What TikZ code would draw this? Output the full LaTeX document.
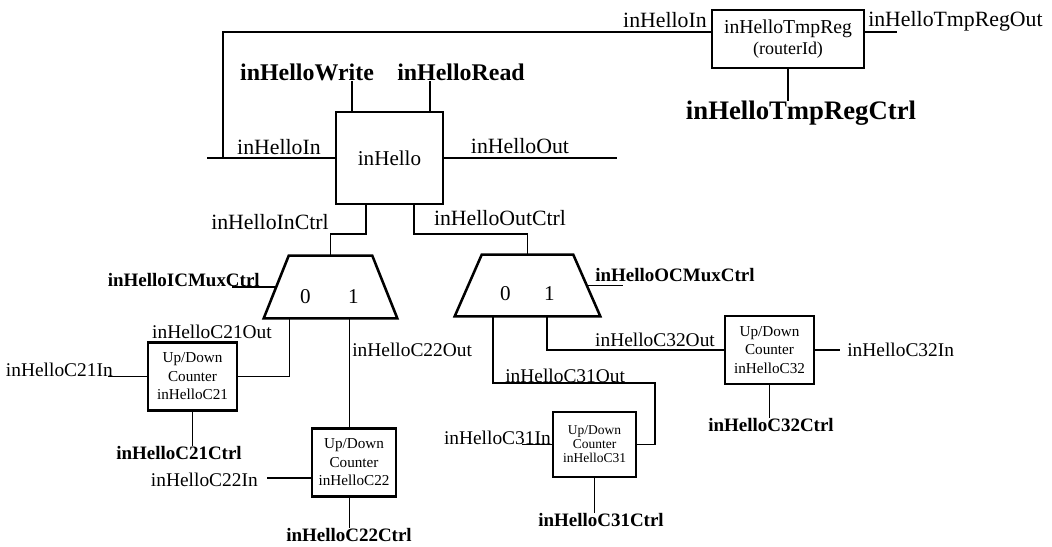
\documentclass[tikz,border=0pt]{standalone}
\usepackage{fontspec}
\setmainfont{Liberation Serif}
\usetikzlibrary{positioning, calc}

\begin{document}
\begin{tikzpicture}[
    x=0.025cm, y=-0.025cm,
    wire/.style={line width=1.3pt},
    blockbox/.style={draw, line width=1.8pt, align=center, inner sep=1pt},
    udcounter/.style={blockbox, minimum width=2.225cm, minimum height=1.7cm,
        font=\fontsize{10.8}{13.2}\selectfont},
    mux/.style={inner sep=0pt, minimum height=1.55cm},
    muxline/.style={line width=1.8pt, line join=miter},
    digit/.style={inner sep=0pt, font=\fontsize{15}{18}\selectfont},
    sig/.style={inner sep=0pt, font=\fontsize{15.5}{18}\selectfont},
    sigs/.style={inner sep=0pt, font=\fontsize{13.8}{16}\selectfont},
    ctl/.style={inner sep=0pt, font=\fontsize{13.5}{16}\selectfont\bfseries},
    bigctl/.style={inner sep=0pt, font=\fontsize{17}{20}\selectfont\bfseries}
]
    \useasboundingbox (0,0) rectangle (1052,546);

    % registers
    \node[blockbox, minimum width=2.675cm, minimum height=2.3cm,
        font=\fontsize{15}{18}\selectfont] (hello) at (389.5,158) {inHello};
    \node[blockbox, minimum width=3.8cm, minimum height=1.45cm,
        font=\fontsize{14}{14.5}\selectfont] (tmpreg) at (788,39)
        {inHelloTmpReg\\{\fontsize{12.8}{14}\selectfont(routerId)}};

    % muxes: node for the box, outline drawn on its corners
    \node[mux, minimum width=3.325cm] (muxI) at (330.5,287) {};
    \draw[muxline] (muxI.south west) -- ($(muxI.north west)+(25,0)$)
        -- ($(muxI.north east)+(-25,0)$) -- (muxI.south east) -- cycle;
    \node[digit] (muxIa) at ($(muxI)+(-25,10)$) {0};
    \node[digit] (muxIb) at ($(muxI)+(23,10)$) {1};

    \node[mux, minimum width=3.625cm, minimum height=1.525cm] (muxO) at (527.5,285.5) {};
    \draw[muxline] (muxO.south west) -- ($(muxO.north west)+(27,0)$)
        -- ($(muxO.north east)+(-27,0)$) -- (muxO.south east) -- cycle;
    \node[digit] (muxOa) at ($(muxO)+(-22,8)$) {0};
    \node[digit] (muxOb) at ($(muxO)+(22,8)$) {1};

    % up/down counters
    \node[udcounter] (c21) at (192.5,376.5) {Up/Down\\Counter\\inHelloC21};
    \node[udcounter, minimum width=2.1cm] (c22) at (354,462.5)
        {Up/Down\\Counter\\inHelloC22};
    \node[udcounter] (c32) at (769.5,350) {Up/Down\\Counter\\inHelloC32};
    \node[udcounter, minimum width=2.075cm, minimum height=1.625cm,
        font=\fontsize{9.6}{10}\selectfont] (c31) at (594.5,444.5)
        {Up/Down\\Counter\\inHelloC31};

    % signal names
    \node[bigctl] (wrlbl) at (307,72) {inHelloWrite};
    \node[bigctl] (rdlbl) at (461,72) {inHelloRead};
    \node[sig] (inlbl) at (279,147) {inHelloIn};
    \node[sig] (outlbl) at (520,146) {inHelloOut};
    \node[sig] (tmpinlbl) at (665,20) {inHelloIn};
    \node[sig, anchor=west] (tmpoutlbl) at (868,21) {inHelloTmpRegOut};
    \node[bigctl, font=\fontsize{19}{22}\selectfont\bfseries] (tmpctl)
        at (801,113) {inHelloTmpRegCtrl};
    \node[sig] (ictrllbl) at (270,222) {inHelloInCtrl};
    \node[sig] (octrllbl) at (500,218) {inHelloOutCtrl};
    \node[ctl, anchor=east] (icmuxlbl) at (260,280) {inHelloICMuxCtrl};
    \node[ctl, anchor=west] (ocmuxlbl) at (595,275) {inHelloOCMuxCtrl};

    \node[sigs] (c21outlbl) at (212,332) {inHelloC21Out};
    \node[sigs, anchor=east] (c21inlbl) at (113,370) {inHelloC21In};
    \node[ctl] (c21ctl) at (179,453) {inHelloC21Ctrl};
    \node[sigs, anchor=west] (c22outlbl) at (352,350) {inHelloC22Out};
    \node[sigs, anchor=east] (c22inlbl) at (258,480) {inHelloC22In};
    \node[ctl] (c22ctl) at (349,535) {inHelloC22Ctrl};
    \node[sigs] (c32outlbl) at (655,340) {inHelloC32Out};
    \node[sigs, anchor=west] (c32inlbl) at (847,350) {inHelloC32In};
    \node[ctl] (c32ctl) at (771,425) {inHelloC32Ctrl};
    \node[sigs, anchor=west] (c31outlbl) at (505,376) {inHelloC31Out};
    \node[sigs, anchor=east] (c31inlbl) at (551,438) {inHelloC31In};
    \node[ctl] (c31ctl) at (601,520) {inHelloC31Ctrl};

    % free wire ends and bends
    \coordinate (inend) at (207,158);
    \coordinate (loopfoot) at (223,158);
    \coordinate (outend) at (617,158);
    \coordinate (tmpoutend) at (897,32);
    \coordinate (icmuxend) at (232,290);
    \coordinate (ocmuxend) at (623,287);
    \coordinate (c21inend) at (108,375);
    \coordinate (c22inend) at (267,478);
    \coordinate (c31inend) at (522,445);
    \coordinate (c32inend) at (840,350);
    \coordinate (c31bend) at (655,383);

    % taps on the boxes
    \coordinate (wrtap) at ($(hello.north west)+(17,0)$);
    \coordinate (rdtap) at ($(hello.north east)+(-14,0)$);
    \coordinate (ictap) at ($(hello.south west)+(31,0)$);
    \coordinate (octap) at ($(hello.south east)+(-30,0)$);
    \coordinate (muxI0) at ($(muxI.south)+(-41,0)$);
    \coordinate (muxI1) at ($(muxI.south)+(19,0)$);
    \coordinate (muxO0) at ($(muxO.south)+(-34.5,0)$);
    \coordinate (muxO1) at ($(muxO.south)+(19.5,0)$);
    \coordinate (muxIsel) at ($(muxI.west)+(12.5,0)$);
    \coordinate (muxOsel) at ($(muxO.east)+(-13.5,0)$);

    % wires
    \draw[wire] (inend) -- (hello.west);
    \draw[wire] (hello.east) -- (outend);
    \draw[wire] (loopfoot) |- ($(tmpreg.west)+(0,-7)$);
    \draw[wire] ($(tmpreg.east)+(0,-7)$) -- (tmpoutend);
    \draw[wire] (wrtap) -- (wrtap |- wrlbl.south);
    \draw[wire] (rdtap) -- (rdtap |- rdlbl.south);
    \draw[wire] (tmpreg.south) -- (tmpreg.south |- tmpctl.north);
    \draw[wire] (ictap) -- ++(0,29) -| (muxI.north);
    \draw[wire] (octap) -- ++(0,29) -| (muxO.north);
    \draw[wire] (muxIsel) -- (muxIsel -| icmuxend);
    \draw[wire] (muxOsel) -- (muxOsel -| ocmuxend);

    \draw[wire] (c21.east) -| (muxI0);
    \draw[wire] (c21.west) -- (c21.west -| c21inend);
    \draw[wire] (c21.south) -- (c21.south |- c21ctl.north);
    \draw[wire] (muxI1) -- (muxI1 |- c22.north);
    \draw[wire] (c22inend -| c22.west) -- (c22inend);
    \draw[wire] (c22.south -| muxI1) -- (c22ctl.north -| muxI1);
    \draw[wire] (c32.west) -| (muxO1);
    \draw[wire] (c32.east) -- (c32.east -| c32inend);
    \draw[wire] (c32.south) -- (c32.south |- c32ctl.north);
    \draw[wire] (muxO0) |- (c31bend) |- (c31.east);
    \draw[wire] (c31.west) -- (c31.west -| c31inend);
    \draw[wire] (c31.south) -- (c31.south |- c31ctl.north);
\end{tikzpicture}
\end{document}
